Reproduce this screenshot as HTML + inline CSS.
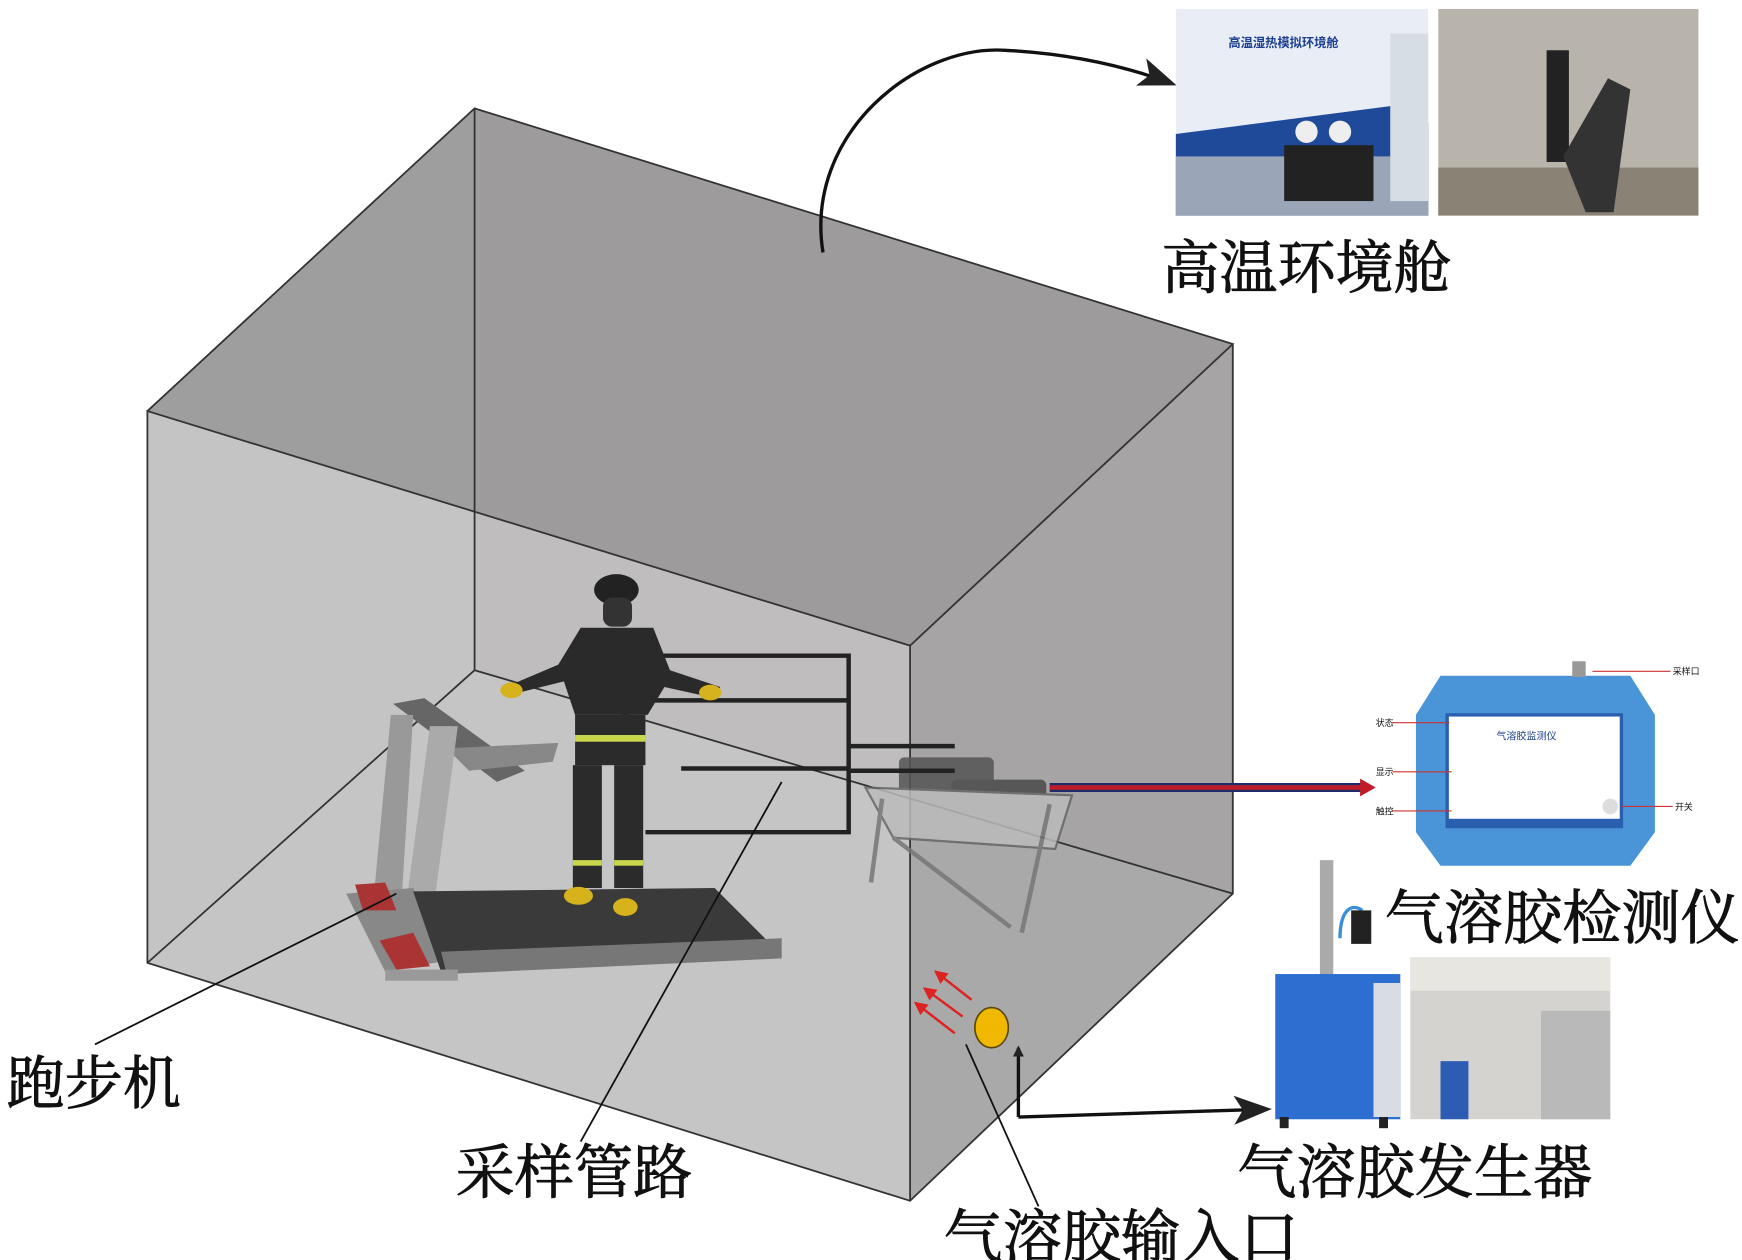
<!DOCTYPE html>
<html><head><meta charset="utf-8"><style>
html,body{margin:0;padding:0;background:#fff;}
svg{display:block;}
text{font-family:"Liberation Serif","Noto Serif CJK SC",serif;fill:#111;}
.l{stroke:#111;stroke-width:0.8;}
.s{font-family:"Liberation Sans","Noto Sans CJK SC",sans-serif;}
</style></head><body>
<svg width="1742" height="1260" viewBox="0 0 1560 1128" preserveAspectRatio="none" xmlns="http://www.w3.org/2000/svg">
<defs>
<marker id="ah" markerWidth="10" markerHeight="10" refX="8" refY="5" orient="auto" markerUnits="userSpaceOnUse"><path d="M0,0 L10,5 L0,10 Z" fill="#222"/></marker>
<marker id="ahb" markerWidth="34" markerHeight="26" refX="30" refY="13" orient="auto" markerUnits="userSpaceOnUse"><path d="M0,0 L34,13 L0,26 L8,13 Z" fill="#222"/></marker>
<marker id="ahr" markerWidth="12" markerHeight="12" refX="10" refY="6" orient="auto" markerUnits="userSpaceOnUse"><path d="M0,0 L12,6 L0,12 Z" fill="#d22"/></marker>
</defs>
<polygon points="425,97 1104,308 1104,800 425,600" fill="#9e9d9d"/>
<polygon points="132,368 425,97 425,600 132,862" fill="#b8b7b7"/>
<polygon points="132,862 425,600 1104,800 815,1075" fill="#bdbcbc"/>
<polygon points="425,97 1104,308 815,578 132,368" fill="#9c9b9b" opacity="0.9"/>
<polygon points="132,368 815,578 815,1075 132,862" fill="#c9c8c8" opacity="0.75"/>
<polygon points="815,578 1104,308 1104,800 815,1075" fill="#a7a6a6" opacity="0.85"/>
<g stroke="#333" stroke-width="1.6" fill="none">
<polyline points="132,368 425,97 1104,308 815,578 132,368 132,862 815,1075 1104,800 1104,308"/>
<line x1="815" y1="578" x2="815" y2="1075"/>
<line x1="425" y1="97" x2="425" y2="600"/>
<line x1="425" y1="600" x2="132" y2="862"/>
<line x1="425" y1="600" x2="1104" y2="800"/>
</g>
<g opacity="0.85">
<rect x="805" y="678" width="85" height="38" rx="5" fill="#555"/>
<rect x="852" y="698" width="85" height="40" rx="5" fill="#4a4a4a"/>
<path d="M775,705 L960,712 L945,760 L800,750 Z" fill="#bbb" stroke="#666" stroke-width="2"/>
<path d="M790,715 L780,790 M940,720 L915,835 M800,750 L905,830" stroke="#777" stroke-width="4" fill="none"/>
</g>
<g>
<polygon points="352,630 380,625 470,690 445,700" fill="#666"/>
<polygon points="400,670 500,665 495,682 420,690" fill="#888"/>
<polygon points="350,640 370,640 360,800 335,800" fill="#999"/>
<polygon points="385,650 410,650 390,800 365,800" fill="#aaa"/>
<polygon points="310,800 370,795 400,860 345,870" fill="#888"/>
<polygon points="318,792 345,790 355,815 325,815" fill="#a33"/>
<polygon points="340,842 370,835 385,865 355,868" fill="#a33"/>
<polygon points="370,798 640,795 700,855 395,870" fill="#3a3a3a"/>
<polygon points="395,852 700,840 700,858 400,872" fill="#777"/>
<rect x="345" y="868" width="65" height="10" fill="#999"/>
</g>
<g stroke="#222" stroke-width="4" fill="none">
<polyline points="578,587 760,587 760,745 578,745"/>
<line x1="578" y1="627" x2="760" y2="627"/>
<line x1="610" y1="688" x2="760" y2="688"/>
<line x1="760" y1="668" x2="855" y2="668"/>
<line x1="760" y1="690" x2="855" y2="690"/>
</g>
<g>
<ellipse cx="552" cy="528" rx="20" ry="14" fill="#222"/>
<rect x="540" y="535" width="26" height="26" rx="8" fill="#333"/>
<polygon points="520,562 585,562 600,600 645,615 640,625 595,615 580,640 515,640 505,610 465,620 460,612 500,595" fill="#2a2a2a"/>
<rect x="515" y="640" width="63" height="45" fill="#2b2b2b"/>
<rect x="515" y="658" width="63" height="6" fill="#c8d84a"/>
<rect x="513" y="685" width="26" height="110" fill="#2b2b2b"/>
<rect x="550" y="685" width="26" height="110" fill="#2b2b2b"/>
<rect x="513" y="770" width="26" height="5" fill="#c8d84a"/>
<rect x="550" y="770" width="26" height="5" fill="#c8d84a"/>
<ellipse cx="518" cy="802" rx="13" ry="8" fill="#d6b21c"/>
<ellipse cx="560" cy="812" rx="11" ry="8" fill="#d6b21c"/>
<ellipse cx="458" cy="618" rx="10" ry="7" fill="#d6b21c"/>
<ellipse cx="636" cy="620" rx="10" ry="7" fill="#d6b21c"/>
</g>
<g stroke="#111" stroke-width="1.6" fill="none">
<line x1="85" y1="935" x2="355" y2="800"/>
<line x1="520" y1="1022" x2="700" y2="700"/>
<line x1="930" y1="1080" x2="865" y2="935"/>
</g>
<ellipse cx="888" cy="920" rx="15" ry="18" fill="#f0b800" stroke="#5a4a00" stroke-width="1.5"/>
<g stroke="#d22" stroke-width="2.2" marker-end="url(#ahr)">
<line x1="870" y1="895" x2="838" y2="870"/>
<line x1="862" y1="910" x2="828" y2="885"/>
<line x1="855" y1="925" x2="820" y2="898"/>
</g>
<polyline points="912,1000 912,938" stroke="#111" stroke-width="3" fill="none" marker-end="url(#ah)"/>
<polyline points="912,1000 1135,993" stroke="#111" stroke-width="3" fill="none" marker-end="url(#ahb)"/>
<line x1="940" y1="705" x2="1222" y2="705" stroke="#1e2d6a" stroke-width="8"/>
<line x1="940" y1="705" x2="1222" y2="705" stroke="#c01c28" stroke-width="4"/>
<path d="M1218,697 L1232,705 L1218,713 Z" fill="#c01c28"/>
<path d="M737,226 C720,120 820,40 900,45 C960,48 1010,60 1050,75" stroke="#111" stroke-width="3" fill="none" marker-end="url(#ahb)"/>
<rect x="1053" y="8" width="226" height="185" fill="#e9eef6"/>
<polygon points="1053,120 1245,95 1279,110 1279,193 1053,193" fill="#1f4a9a"/>
<rect x="1053" y="140" width="226" height="53" fill="#9aa6b8"/>
<rect x="1245" y="30" width="34" height="150" fill="#d7dde4"/>
<rect x="1150" y="130" width="80" height="50" fill="#222"/>
<circle cx="1170" cy="118" r="10" fill="#eee"/><circle cx="1200" cy="118" r="10" fill="#eee"/>
<text class="s" x="1100" y="42" font-size="11" font-weight="bold" style="fill:#1c3f8f">高温湿热模拟环境舱</text>
<rect x="1288" y="8" width="233" height="185" fill="#b9b4ab"/>
<rect x="1288" y="150" width="233" height="43" fill="#8b8276"/>
<rect x="1385" y="45" width="20" height="100" fill="#222"/>
<polygon points="1400,140 1440,70 1460,80 1445,190 1420,190" fill="#333"/>
<text class="l" x="1040" y="258" font-size="52">高温环境舱</text>
<path d="M1290,605 L1460,605 L1482,640 L1482,745 L1460,775 L1290,775 L1268,745 L1268,640 Z" fill="#4a95d8"/>
<rect x="1296" y="640" width="156" height="100" fill="#fff" stroke="#2a5fb0" stroke-width="3"/>
<rect x="1296" y="733" width="156" height="8" fill="#2a5fb0"/>
<text class="s" x="1340" y="662" font-size="9" style="fill:#1c3f8f">气溶胶监测仪</text>
<circle cx="1442" cy="722" r="7" fill="#ddd"/>
<rect x="1408" y="592" width="12" height="14" fill="#999"/>
<g stroke="#c33" stroke-width="1"><line x1="1247" y1="647" x2="1298" y2="647"/><line x1="1247" y1="691" x2="1300" y2="691"/><line x1="1247" y1="726" x2="1300" y2="726"/><line x1="1452" y1="722" x2="1498" y2="722"/><line x1="1426" y1="601" x2="1496" y2="601"/></g>
<text class="s" x="1232" y="650" font-size="8">状态</text>
<text class="s" x="1232" y="694" font-size="8">显示</text>
<text class="s" x="1232" y="729" font-size="8">触控</text>
<text class="s" x="1500" y="725" font-size="8">开关</text>
<text class="s" x="1498" y="604" font-size="8">采样口</text>
<text class="l" x="1240" y="840" font-size="53">气溶胶检测仪</text>
<rect x="1182" y="770" width="12" height="110" fill="#aaa"/>
<path d="M1200,840 C1200,815 1210,808 1220,815" stroke="#3a8fd8" stroke-width="3" fill="none"/>
<rect x="1210" y="815" width="18" height="30" fill="#222"/>
<rect x="1142" y="872" width="112" height="130" fill="#2c6fd0"/>
<rect x="1230" y="880" width="24" height="120" fill="#d8dde4"/>
<rect x="1146" y="1000" width="8" height="10" fill="#222"/><rect x="1235" y="1000" width="8" height="10" fill="#222"/>
<rect x="1263" y="857" width="179" height="145" fill="#d4d3cf"/>
<rect x="1263" y="857" width="179" height="30" fill="#e8e6e1"/>
<rect x="1380" y="905" width="62" height="97" fill="#b9b9b9"/>
<rect x="1290" y="950" width="25" height="52" fill="#2c5cb4"/>
<text class="l" x="1108" y="1068" font-size="53">气溶胶发生器</text>
<text class="l" x="6" y="988" font-size="52">跑步机</text>
<text class="l" x="408" y="1068" font-size="53">采样管路</text>
<text class="l" x="845" y="1126" font-size="53">气溶胶输入口</text>
</svg>
</body></html>
